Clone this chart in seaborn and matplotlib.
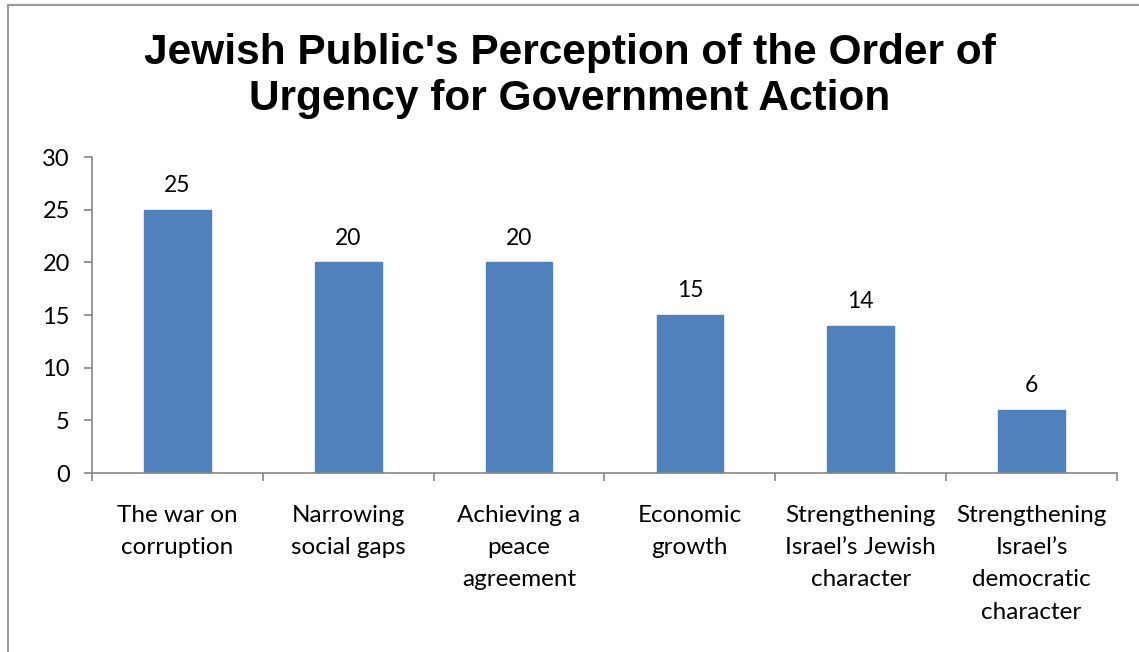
import pandas as pd
import seaborn as sns
import matplotlib.pyplot as plt
from matplotlib.patches import Rectangle

# Chart data
categories = ['The war on\ncorruption', 'Narrowing\nsocial gaps', 'Achieving a\npeace\nagreement',
              'Economic\ngrowth', 'Strengthening\nIsrael\u2019s Jewish\ncharacter',
              'Strengthening\nIsrael\u2019s\ndemocratic\ncharacter']
values = [25, 20, 20, 15, 14, 6]
y_ticks = [0, 5, 10, 15, 20, 25, 30]

df = pd.DataFrame({'Category': categories, 'Value': values})

sns.set_style('white')
plt.rcParams['font.family'] = ['Lato', 'DejaVu Sans']

fig = plt.figure(figsize=(11.39, 6.52), dpi=100)
ax = fig.add_axes([92 / 1139, 1 - 473 / 652, (1117 - 92) / 1139, (473 - 157) / 652])

sns.barplot(data=df, x='Category', y='Value', color='#4F81BD', width=0.39, ax=ax,
            saturation=1, edgecolor='#4F81BD')

ax.set_xlim(-0.5, len(categories) - 0.5)
ax.set_ylim(0, 30)
ax.set_yticks(y_ticks)
ax.set_xlabel('')
ax.set_ylabel('')

# value labels
for i, v in enumerate(values):
    ax.text(i, v + 1.3, str(v), ha='center', va='bottom', fontsize=16.5, color='black')

# axis styling
for side in ['top', 'right']:
    ax.spines[side].set_visible(False)
for side in ['left', 'bottom']:
    ax.spines[side].set_color('#868686')
    ax.spines[side].set_linewidth(1.2)

ax.tick_params(axis='y', which='major', direction='out', length=6, width=1.2, color='#868686',
               labelsize=17, labelcolor='black', pad=10, left=True)
ax.set_xticks(range(len(categories)))
ax.set_xticklabels(categories, fontsize=17.5, linespacing=1.66, color='black')
ax.tick_params(axis='x', which='major', length=0, pad=23)
ax.set_xticks([i - 0.5 for i in range(len(categories) + 1)], minor=True)
ax.tick_params(axis='x', which='minor', direction='out', length=6, width=1.2, color='#868686',
               bottom=True)

# title
fig.text(0.5, 1 - 76 / 652, "Jewish Public's Perception of the Order of\nUrgency for Government Action",
         ha='center', va='center', fontsize=30.5, fontweight='bold', color='black',
         family=['Liberation Sans', 'DejaVu Sans'], linespacing=1.2)

# outer chart border (partially cropped)
fig.patches.append(Rectangle((8 / 1139, -0.1), 1.2, 1.1 - 5 / 652, transform=fig.transFigure,
                             fill=False, edgecolor='#9a9a9a', linewidth=1.5))

fig.savefig('out.png', dpi=100)
